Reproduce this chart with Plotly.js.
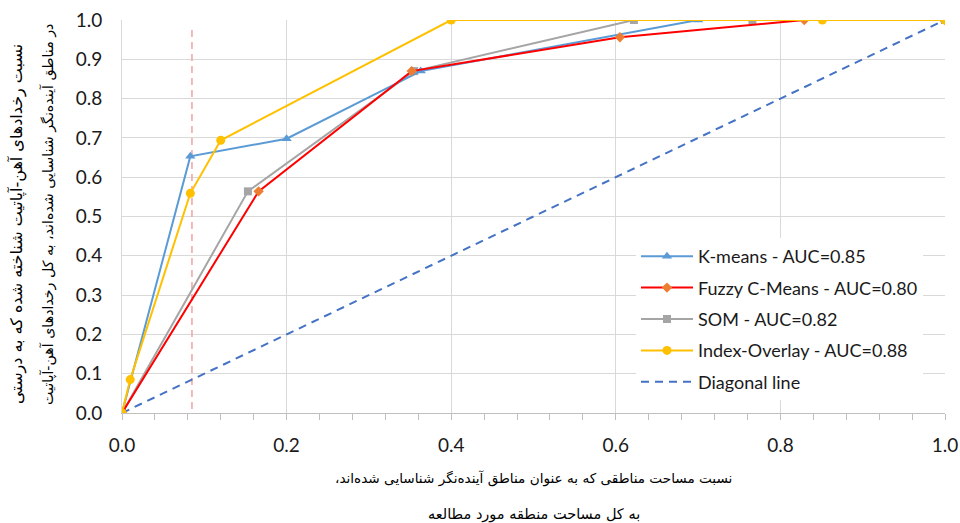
<!DOCTYPE html>
<html>
<head>
<meta charset="utf-8">
<script src="https://cdn.plot.ly/plotly-3.0.1.min.js"></script>
<style>
  html, body { margin: 0; padding: 0; background: #ffffff; }
  #chart { width: 960px; height: 523px; }
</style>
</head>
<body>
<div id="chart"></div>
<script>
// Success-rate curves: share of study area flagged as prospective (x)
// against share of known iron-apatite occurrences captured (y).
const kmeansX = [0, 0.083, 0.20, 0.363, 0.70, 1.0];
const kmeansY = [0, 0.653, 0.698, 0.870, 1.0, 1.0];

const fuzzyX = [0, 0.166, 0.352, 0.605, 0.829, 1.0];
const fuzzyY = [0, 0.564, 0.870, 0.956, 1.0, 1.0];

const somX = [0, 0.153, 0.355, 0.622, 0.766, 1.0];
const somY = [0, 0.564, 0.870, 1.0, 1.0, 1.0];

const overlayX = [0, 0.010, 0.083, 0.120, 0.400, 0.851, 1.0];
const overlayY = [0, 0.085, 0.559, 0.694, 1.0, 1.0, 1.0];

const diagonalX = [0, 1];
const diagonalY = [0, 1];

const thresholdX = [0.085, 0.085];
const thresholdY = [0.01, 0.98];

const seriesNames = [
  'K-means - AUC=0.85',
  'Fuzzy C-Means - AUC=0.80',
  'SOM - AUC=0.82',
  'Index-Overlay - AUC=0.88',
  'Diagonal line'
];

const xTickVals = [0, 0.2, 0.4, 0.6, 0.8, 1.0];
const yTickVals = [0, 0.1, 0.2, 0.3, 0.4, 0.5, 0.6, 0.7, 0.8, 0.9, 1.0];

// RLM keeps the trailing Persian comma on the left end of the line
const RLM = '\u200F';
const xTitleLines = [
  RLM + 'نسبت مساحت مناطقی که به عنوان مناطق آینده‌نگر شناسایی شده‌اند،' + RLM,
  'به کل مساحت منطقه مورد مطالعه'
];
const yTitleLines = [
  'نسبت رخدادهای آهن-آپاتیت شناخته شده که به درستی',
  RLM + 'در مناطق آینده‌نگر شناسایی شده‌اند، به کل رخدادهای آهن-آپاتیت'
];

const latin = 'Lato, "Open Sans", sans-serif';
const arabic = '"DejaVu Sans", sans-serif';

const traces = [
  {
    x: thresholdX, y: thresholdY, mode: 'lines', showlegend: false, hoverinfo: 'skip',
    line: { color: '#F4A3A3', width: 1.5, dash: '7px,5px' }
  },
  {
    x: diagonalX, y: diagonalY, mode: 'lines', name: seriesNames[4], legendgroup: 'g5',
    legendrank: 5,
    line: { color: '#4472C4', width: 2, dash: '8px,6px' }
  },
  {
    x: somX, y: somY, mode: 'lines+markers', name: seriesNames[2], legendgroup: 'g3',
    legendrank: 3,
    line: { color: '#A5A5A5', width: 2 },
    marker: { symbol: 'square', size: 8, color: '#A5A5A5' }
  },
  {
    x: kmeansX, y: kmeansY, mode: 'lines+markers', name: seriesNames[0], legendgroup: 'g1',
    legendrank: 1,
    line: { color: '#5B9BD5', width: 2 },
    marker: { symbol: 'triangle-up', size: 9, color: '#5B9BD5' }
  },
  {
    x: fuzzyX, y: fuzzyY, mode: 'lines+markers', name: seriesNames[1], legendgroup: 'g2',
    legendrank: 2,
    line: { color: '#FF0000', width: 2 },
    marker: { symbol: 'diamond', size: 8, color: '#ED7D31' }
  },
  {
    x: overlayX, y: overlayY, mode: 'lines+markers', name: seriesNames[3], legendgroup: 'g4',
    legendrank: 4,
    line: { color: '#FFC000', width: 2 },
    marker: { symbol: 'circle', size: 9, color: '#FFC000' }
  }
];

const L = 122, R = 15, T = 20, B = 110;
const plotW = 960 - L - R, plotH = 523 - T - B;
const px2paperX = px => (px - L) / plotW;
const px2paperY = py => (523 - B - py) / plotH;

const layout = {
  width: 960,
  height: 523,
  margin: { l: L, r: R, t: T, b: B, pad: 0 },
  paper_bgcolor: '#ffffff',
  plot_bgcolor: '#ffffff',
  font: { family: latin, size: 18, color: '#000000' },
  showlegend: true,
  legend: {
    x: px2paperX(636), y: px2paperY(238), xanchor: 'left', yanchor: 'top',
    bgcolor: '#ffffff', borderwidth: 0,
    font: { family: latin, size: 18, color: '#1a1a1a' },
    traceorder: 'grouped', tracegroupgap: 5, itemwidth: 52
  },
  xaxis: {
    range: [0, 1], tickvals: xTickVals, tickformat: '.1f',
    showgrid: true, gridcolor: '#D9D9D9', gridwidth: 1,
    zeroline: false, showline: true, linecolor: '#BFBFBF', linewidth: 1,
    ticks: 'outside', ticklen: 6, tickcolor: '#BFBFBF', ticklabelstandoff: 9,
    minor: { dtick: 0.04, ticks: 'outside', ticklen: 6, tickcolor: '#BFBFBF', showgrid: false },
    tickfont: { family: latin, size: 19, color: '#1a1a1a' },
    fixedrange: true
  },
  yaxis: {
    range: [0, 1], tickvals: yTickVals, tickformat: '.1f',
    showgrid: true, gridcolor: '#D9D9D9', gridwidth: 1,
    zeroline: false, showline: true, linecolor: '#D9D9D9', linewidth: 1,
    ticks: '', ticklabelstandoff: 15,
    tickfont: { family: latin, size: 19, color: '#1a1a1a' },
    fixedrange: true
  },
  annotations: [
    {
      xref: 'paper', yref: 'paper', x: 0.5, y: px2paperY(478),
      text: xTitleLines[0], showarrow: false, xanchor: 'center', yanchor: 'middle',
      font: { family: arabic, size: 13.6, color: '#000000' }
    },
    {
      xref: 'paper', yref: 'paper', x: 0.5, y: px2paperY(514),
      text: xTitleLines[1], showarrow: false, xanchor: 'center', yanchor: 'middle',
      font: { family: arabic, size: 14.5, color: '#000000' }
    },
    {
      xref: 'paper', yref: 'paper', x: px2paperX(17), y: px2paperY(224),
      text: yTitleLines[0], showarrow: false, textangle: -90,
      xanchor: 'center', yanchor: 'middle',
      font: { family: arabic, size: 16, color: '#000000' }
    },
    {
      xref: 'paper', yref: 'paper', x: px2paperX(48), y: px2paperY(215),
      text: yTitleLines[1], showarrow: false, textangle: -90,
      xanchor: 'center', yanchor: 'middle',
      font: { family: arabic, size: 14.2, color: '#000000' }
    }
  ]
};

Plotly.newPlot('chart', traces, layout, { displayModeBar: false, staticPlot: true });
</script>
</body>
</html>
